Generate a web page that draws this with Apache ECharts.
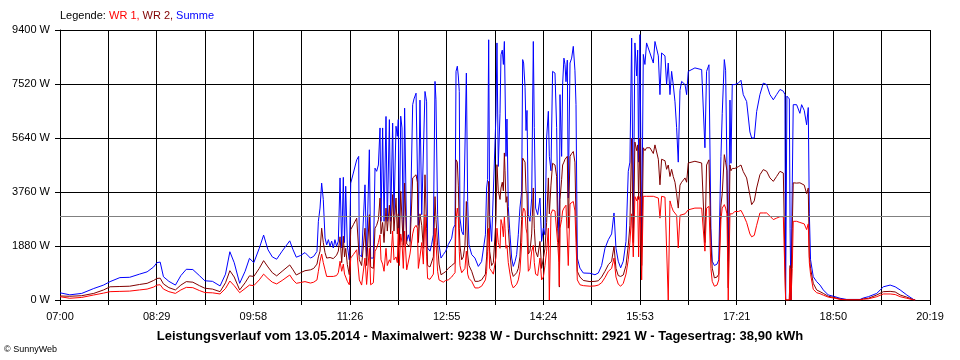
<!DOCTYPE html>
<html><head><meta charset="utf-8">
<script src="https://cdn.jsdelivr.net/npm/echarts@6/dist/echarts.min.js"></script>
<style>html,body{margin:0;padding:0;background:#fff}#c{width:960px;height:360px}</style>
</head><body><div id="c"></div>
<script>
// tick labels of the time axis (every second grid column)
const xTickLabels = ['07:00','08:29','09:58','11:26','12:55','14:24','15:53','17:21','18:50','20:19'];
const spanMinutes = 799;           // 07:00 .. 20:19
const yMax = 9400, yStep = 1880;
const average = 2921;

// minutes after 07:00
const times = [
0,9,20,31,40,46,55,64,73,80,86,89,92,95,100,106,111,116,122,128,133,140,147,152,156,160,165,170,174,178,183,187,191,195,199,204,211,214,217,221,225,
230,233,236,237.3,238.8,240.3,241.8,243.4,244.9,246.5,248,249.5,251,252.5,254,255.6,257.2,258.7,260.2,261.3,262.4,263.9,265.7,267,269.4,272.5,274.3,274.9,277,280.1,281.6,284.1,285.3,287.8,289.3,290.8,292.4,293.9,294.8,296.3,297.6,299.4,300.6,302.5,303.7,305.5,306.7,308.6,309.8,310.7,311.6,312.9,314.1,315.3,316.5,318.4,319.9,321.4,323.9,325.1,327,328.2,329.1,330.6,332.2,333.7,335.2,
336.7,337.6,339.8,341.3,342.9,344.4,345.3,346.8,348.1,349.9,352,354.2,356.6,359.7,361.2,362.8,363.7,364.9,365.8,366.7,367.3,368.9,370.4,371.9,373.2,374.4,375.6,378.1,381.1,384.2,387.2,390.7,391.8,392.7,393.7,394.6,396.4,398,400.4,401.3,402.5,404.1,405,406.2,407.2,408.1,408.7,409.6,410.5,411.7,413.3,414.8,416.3,417.9,419.4,420.9,422.4,424,424.9,425.8,427.1,428,428.9,430.1,431.6,433.2,434.7,435.6,436.8,438.7,
440.8,442.3,443.9,445.4,446.9,448.5,449.4,450.9,452.4,453.7,454.6,456.1,457,458.2,458.6,459.2,460.7,461.6,462.8,463.8,464.7,465.9,466.8,468.4,469.9,471.4,472.9,473.9,475.1,477.5,480.6,486.7,491.3,494.4,497.4,500.5,503.6,506.6,508.8,510.6,512.7,514.9,517.3,519.8,521.9,523.4,525,526.5,528,529.6,530.5,531.4,532.6,534.2,535.7,537.2,538.7,541.8,544.9,
546.4,549.5,551,552.5,555.6,557.1,558.6,560.2,561.7,563.2,564.8,566.3,567.8,569.4,570.9,574,575.5,577,583.1,589.3,592.3,593.8,596,597.8,599,601,603.4,605,607,608.2,610.1,611.3,612.5,613.7,615.3,616.2,617.4,619.8,622.9,625.4,627.5,630.6,633.6,635.2,637.6,639.8,642.8,645.9,649,652,655.1,658.1,661.2,664.3,665.8,666.4,667.6,669.8,670.5,671.3,672.5,673.4,676.5,679.5,681.1,683.5,685.7,687.2,688.2,689.3,691.8,694.9,698,701,705.6,711.8,716.4,722.5,734.8,737.8,742.4,750.1,756.2,762.4,767,771.6,777.7,783.8,785.4
];

const summe = [
250,180,230,400,520,640,780,790,900,980,1150,1300,1320,810,650,520,850,1070,1060,850,670,650,490,900,1680,1300,580,1000,1450,1300,1800,2260,1750,1500,1420,1700,2060,1750,1490,1550,1650,
1460,1520,1690,2740,3200,4070,3500,2160,1920,2100,1870,2050,1810,2100,1870,2050,4250,1810,4270,2000,3960,1870,1400,4070,4420,4880,5000,1580,1500,4010,1520,5230,1460,1460,4590,4480,4700,5990,2740,5990,2740,6390,2740,6280,2740,6160,2970,6050,5700,6280,2040,6400,5990,2040,6680,2040,2270,2040,6800,7000,7200,7260,2600,6960,2970,2970,7260,
6900,1810,1700,1930,2270,7610,6970,2970,1930,1460,1580,1700,1930,2150,2500,2620,7960,8140,7800,7260,2850,2390,2270,2270,7900,3430,1930,1580,1460,1170,1340,2270,3900,4190,9060,2970,2040,2040,6450,8950,4650,6500,8540,8700,8200,9000,7500,5000,6300,3250,2270,1460,1170,1340,1580,2270,3200,3780,8370,8250,7400,5900,6600,2970,2740,3550,9000,6000,3200,2970,
3550,2040,2500,2270,5640,6570,5000,4500,7960,8000,7900,6000,3550,2270,2000,7150,5000,7500,8420,8200,7600,8350,3550,8250,8420,8830,8000,6800,1460,1110,940,930,880,940,1200,1800,2100,2300,3030,1800,1350,1120,1350,2040,4480,4800,9120,2500,8950,7800,8700,4800,9238,1900,8550,8200,8950,8600,8250,
9000,8500,7150,8600,8500,7500,8250,7150,7960,7500,6900,6000,4800,7300,7610,7500,7150,7960,8080,8020,5300,7960,8190,2500,1350,1200,1250,1400,5000,6500,8370,8000,4700,1350,6960,4760,7500,7500,7550,7650,7150,6910,5850,5640,5640,6560,7150,7550,7500,7150,6970,7150,7330,7270,7150,0,7100,7000,2500,0,4000,6800,6800,6500,6800,6600,6100,6700,3000,1400,810,640,520,350,175,115,60,20,20,70,115,230,460,520,460,350,175,20,0
];

const wr2 = [
140,130,150,230,350,460,470,480,540,580,680,750,760,560,430,350,520,640,620,500,410,380,290,600,1020,800,350,600,840,820,1100,1370,1150,950,840,1000,1220,1050,870,950,1020,
1050,1100,1250,1500,1700,2500,2000,1650,1460,1500,1480,1480,1440,1500,1560,1700,2200,1300,2220,1500,1800,1230,880,2450,2620,2850,2900,1400,1200,2500,1200,2970,1150,1100,2500,2600,2800,3550,2300,2700,2000,3200,2400,3300,2300,3670,2400,3550,2300,3000,1900,3780,2800,1900,4070,1950,1900,1850,4250,4300,4360,4100,2000,3000,2600,1800,4360,
2500,1200,1150,1200,1500,3600,2800,1900,1250,880,930,990,1100,1200,1250,1300,4880,4800,4000,2500,1900,1400,1500,1900,3430,1600,1200,1000,650,650,700,900,1500,2500,4130,1700,1200,1300,2800,4710,3800,3500,3900,4100,3800,5120,4500,3400,3600,2500,1600,1000,820,850,950,1100,1500,2800,4940,5000,4800,3800,3700,1600,1700,2300,3900,2500,1700,1500,
2040,1100,1450,1800,2700,4250,3000,4000,4760,4800,4700,4300,2500,1800,450,3500,4200,4700,4800,4900,4950,5000,2500,5000,5100,5170,4800,2800,1000,800,680,640,650,670,800,1000,1230,1350,1870,1100,850,820,870,1200,1900,2600,5640,2000,5500,5200,5400,3500,5640,1200,5300,5200,5300,5300,5100,
5400,4900,4010,4900,4850,4550,4700,4300,4550,4300,4100,3700,3200,4000,4100,4250,4100,4770,4830,4770,2000,4700,4880,2000,1110,770,800,900,3300,3700,5060,4800,4500,420,4700,4500,4580,4580,4640,4700,4470,4250,3650,3320,3450,3900,4360,4540,4480,4250,4130,4300,4480,4420,4360,0,0,0,1200,0,2500,4080,4070,4080,4050,4000,3700,3900,1500,1100,580,350,290,230,130,80,30,10,10,40,60,175,290,300,280,175,100,10,0
];

const wr1 = [
115,60,90,175,240,290,300,310,350,380,450,520,530,380,290,230,350,440,430,330,260,250,210,400,660,500,255,400,520,500,700,900,750,620,560,680,870,700,580,610,640,
590,620,700,1000,1350,1600,1300,1050,820,830,820,830,820,840,850,950,1350,1000,1250,900,800,650,530,1460,1580,1750,1800,700,520,1460,540,1800,530,600,1700,1800,2000,2270,1400,1250,1000,1800,1200,1400,1300,2400,1400,1500,1300,2500,1200,2300,2000,1100,2400,1050,1100,1600,2300,2500,2600,2500,1100,1500,2000,1250,2970,
1500,750,720,760,900,2500,2000,1000,700,650,620,680,700,800,880,950,2800,3200,2900,1700,1200,950,900,1100,1700,900,750,650,420,420,480,700,1000,1700,2500,1100,1000,900,1500,2500,2000,1800,2800,2600,2200,2900,2500,1800,1900,1300,900,560,420,450,550,700,1000,2000,3000,3200,3100,2500,2300,1000,1100,1700,1900,1300,900,850,
1460,700,800,1200,1700,2500,0,3000,3140,3150,3100,3050,2000,1300,500,2500,2800,3100,3200,3250,3300,3350,1200,3350,3400,3430,3100,2000,700,530,500,480,490,520,600,780,1000,1100,1460,800,550,480,580,900,1400,2000,3000,1500,3600,3450,3600,1500,3600,700,3610,3610,3610,3610,3610,
3610,3550,2850,3610,3580,3550,0,3450,3250,3100,3050,2950,1810,2950,2950,3000,3050,3140,3200,3200,1700,3200,3260,1100,650,480,520,700,2800,3200,3320,3200,3000,0,3000,3000,3000,3080,3080,3120,2970,2700,2300,2200,2250,2600,3030,3030,3030,2920,2800,2850,2900,2900,2900,0,0,0,1100,0,1100,2740,2740,2700,2720,2650,2450,2650,1300,900,370,255,220,170,100,60,20,5,5,30,40,115,210,210,190,115,60,5,0
];

const U = 18; // axis units per minute, so each of the 18 grid columns is exactly spanMinutes units wide
function pts(vals){ return times.map((t,i)=>[t*U, vals[i]]); }
const FONT = '"Liberation Sans", Arial, sans-serif';
const chart = echarts.init(document.getElementById('c'), null, {renderer:'canvas'});
const lineBase = {type:'line', showSymbol:false, symbol:'none', smooth:false, animation:false, silent:true, emphasis:{disabled:true}};
chart.setOption({
  animation:false,
  backgroundColor:'#fff',
  textStyle:{fontFamily:FONT},
  title:[
    {text:'Legende:', left:60, top:10, padding:0, textStyle:{fontSize:11, fontWeight:'normal', color:'#000', fontFamily:FONT}},
    {text:'Leistungsverlauf vom 13.05.2014 - Maximalwert: 9238 W - Durchschnitt: 2921 W - Tagesertrag: 38,90 kWh', left:'center', top:330, padding:0, textStyle:{fontSize:13, fontWeight:'bold', color:'#000', fontFamily:FONT}},
    {text:'© SunnyWeb', left:4, top:345, padding:0, textStyle:{fontSize:9, fontWeight:'normal', color:'#000', fontFamily:FONT}}
  ],
  legend:{left:104, top:10, padding:0, itemWidth:0, itemHeight:0, itemGap:-2, icon:'none', selectedMode:false,
    textStyle:{fontSize:11, fontFamily:FONT},
    formatter: n => n === 'Summe' ? n : n + ',',
    data:[{name:'WR 1', textStyle:{color:'#ff0000'}}, {name:'WR 2', textStyle:{color:'#800000'}}, {name:'Summe', textStyle:{color:'#0000ff'}}]},
  grid:{left:60, right:30, top:30, bottom:60},
  xAxis:{type:'value', min:0, max:spanMinutes*U, interval:spanMinutes,
    axisLine:{show:true, lineStyle:{color:'#000', width:1}},
    axisTick:{show:true, length:5, lineStyle:{color:'#000'}},
    axisLabel:{show:true, margin:11, fontSize:11, color:'#000', fontFamily:FONT,
      formatter: v => { const k = Math.round(v/spanMinutes); return k % 2 === 0 ? xTickLabels[k/2] : ''; }},
    splitLine:{show:true, lineStyle:{color:'#000', width:1}}},
  yAxis:{type:'value', min:0, max:yMax, interval:yStep,
    axisLine:{show:true, lineStyle:{color:'#000', width:1}},
    axisTick:{show:true, length:5, lineStyle:{color:'#000'}},
    axisLabel:{show:true, margin:10, fontSize:11, color:'#000', fontFamily:FONT, formatter: v => v + ' W'},
    splitLine:{show:true, lineStyle:{color:'#000', width:1}}},
  series:[
    Object.assign({name:'Summe', data:pts(summe), lineStyle:{color:'#0000ff', width:1}, itemStyle:{color:'#0000ff'}, z:2,
      markLine:{silent:true, symbol:'none', label:{show:false}, lineStyle:{color:'#808080', width:1, type:'solid'}, data:[{yAxis:average}]}}, lineBase),
    Object.assign({name:'WR 2', data:pts(wr2), lineStyle:{color:'#800000', width:1}, itemStyle:{color:'#800000'}, z:3}, lineBase),
    Object.assign({name:'WR 1', data:pts(wr1), lineStyle:{color:'#ff0000', width:1}, itemStyle:{color:'#ff0000'}, z:4}, lineBase)
  ]
});
</script></body></html>
